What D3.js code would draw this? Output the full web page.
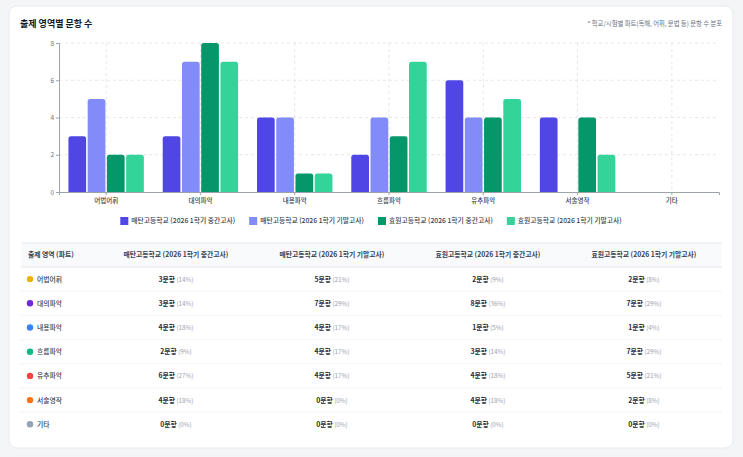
<!DOCTYPE html>
<html>
<head>
<meta charset="utf-8">
<script src="https://cdn.jsdelivr.net/npm/d3@7"></script>
<style>
  html, body { margin: 0; padding: 0; background: #f4f5f7; }
  svg { display: block; font-family: "Noto Sans CJK KR", "Noto Sans", sans-serif; }
</style>
</head>
<body>
<div class="canvas"></div>
<script>
// what to show
var categories = ['어법어휘', '대의파악', '내용파악', '흐름파악', '유추파악', '서술영작', '기타'];
var dotColors = ['#eab308', '#6d28d9', '#3b82f6', '#10b981', '#ef4444', '#f97316', '#94a3b8'];

var seriesNames = [
    '매탄고등학교 (2026 1학기 중간고사)',
    '매탄고등학교 (2026 1학기 기말고사)',
    '효원고등학교 (2026 1학기 중간고사)',
    '효원고등학교 (2026 1학기 기말고사)'
];
var seriesColors = ['#4f46e5', '#818cf8', '#059669', '#34d399'];

var maetanMid = [3, 3, 4, 2, 6, 4, 0];
var maetanFinal = [5, 7, 4, 4, 4, 0, 0];
var hyowonMid = [2, 8, 1, 3, 4, 4, 0];
var hyowonFinal = [2, 7, 1, 7, 5, 2, 0];
var seriesValues = [maetanMid, maetanFinal, hyowonMid, hyowonFinal];

var yTicks = [0, 2, 4, 6, 8];

// where does it live
var width = 743,
    height = 457;

var svg = d3.select('.canvas').append('svg')
    .attr('width', width)
    .attr('height', height);

// card
svg.append('rect')
    .attr('x', 9).attr('y', 6)
    .attr('width', 724).attr('height', 442)
    .attr('rx', 8)
    .attr('fill', '#fff')
    .attr('stroke', '#e8ebf0');

svg.append('text')
    .attr('x', 20).attr('y', 27)
    .attr('font-size', 9)
    .attr('font-weight', 700)
    .attr('fill', '#111827')
    .text('출제 영역별 문항 수');

svg.append('text')
    .attr('x', 722).attr('y', 26)
    .attr('text-anchor', 'end')
    .attr('font-size', 6.3)
    .attr('fill', '#6b7280')
    .text('* 학교/시험별 파트(독해, 어휘, 문법 등) 문항 수 분포');

// scales
var x = d3.scaleBand()
    .domain(categories)
    .range([59, 719]);

var inner = d3.scaleBand()
    .domain(d3.range(seriesNames.length))
    .range([x.bandwidth() * 0.1, x.bandwidth() * 0.9])
    .paddingInner(0.08);

var y = d3.scaleLinear()
    .domain([0, 8])
    .range([192, 43]);

// grid
var grid = svg.append('g')
    .attr('stroke', '#e5e7eb')
    .attr('stroke-dasharray', '3,3');

grid.selectAll('line.h')
    .data(yTicks.slice(1))
    .enter()
    .append('line')
    .attr('x1', 59).attr('x2', 719)
    .attr('y1', function (d) { return y(d); })
    .attr('y2', function (d) { return y(d); });

grid.selectAll('line.v')
    .data(categories)
    .enter()
    .append('line')
    .attr('x1', function (d) { return x(d) + x.bandwidth() / 2; })
    .attr('x2', function (d) { return x(d) + x.bandwidth() / 2; })
    .attr('y1', 43).attr('y2', 192);

// bars
var rows = [];
categories.forEach(function (c, i) {
    seriesValues.forEach(function (vals, s) {
        rows.push({ cat: c, s: s, v: vals[i] });
    });
});

function barPath(d) {
    var x0 = x(d.cat) + inner(d.s),
        w = inner.bandwidth(),
        y0 = y(d.v),
        y1 = y(0),
        r = Math.min(2.5, (y1 - y0) / 2);
    return 'M' + x0 + ',' + y1 +
        'V' + (y0 + r) +
        'Q' + x0 + ',' + y0 + ' ' + (x0 + r) + ',' + y0 +
        'H' + (x0 + w - r) +
        'Q' + (x0 + w) + ',' + y0 + ' ' + (x0 + w) + ',' + (y0 + r) +
        'V' + y1 + 'Z';
}

svg.append('g').selectAll('path')
    .data(rows.filter(function (d) { return d.v > 0; }))
    .enter()
    .append('path')
    .attr('d', barPath)
    .attr('fill', function (d) { return seriesColors[d.s]; });

// axes
var yAxis = svg.append('g')
    .attr('transform', 'translate(59,0)')
    .call(d3.axisLeft(y).tickValues(yTicks).tickSize(3).tickPadding(2));

var xAxis = svg.append('g')
    .attr('transform', 'translate(0,192)')
    .call(d3.axisBottom(x).tickSize(3).tickPadding(3));

[yAxis, xAxis].forEach(function (a) {
    a.select('.domain').attr('stroke', '#9ca3af');
    a.selectAll('.tick line').attr('stroke', '#9ca3af');
    a.selectAll('.tick text')
        .attr('font-family', '"Noto Sans CJK KR", sans-serif')
        .attr('font-size', 6.5);
});
yAxis.selectAll('.tick text').attr('fill', '#6b7280');
xAxis.selectAll('.tick text').attr('fill', '#374151').attr('font-weight', 500);

// legend
var legend = svg.append('g');
var items = legend.selectAll('g')
    .data(seriesNames)
    .enter()
    .append('g');

items.append('rect')
    .attr('width', 8).attr('height', 8)
    .attr('y', -4)
    .attr('fill', function (d, i) { return seriesColors[i]; });

items.append('text')
    .attr('x', 11).attr('y', 2.4)
    .attr('font-size', 6.8)
    .attr('font-weight', 500)
    .attr('fill', '#374151')
    .text(function (d) { return d; });

var offsets = [], total = 0;
items.each(function () {
    var w = this.getBBox().width;
    offsets.push(total);
    total += w + 14;
});
total -= 14;
items.attr('transform', function (d, i) {
    return 'translate(' + (offsets[i] + (371 - total / 2)) + ',221)';
});

// table
var tableLeft = 21, tableRight = 722,
    headTop = 243, headH = 24, rowH = 24.2,
    colCenters = [176, 332, 488, 644];

svg.append('rect')
    .attr('x', tableLeft).attr('y', headTop)
    .attr('width', tableRight - tableLeft).attr('height', headH)
    .attr('fill', '#f8fafc');

svg.append('g').selectAll('line')
    .data(d3.range(categories.length + 1))
    .enter()
    .append('line')
    .attr('x1', tableLeft).attr('x2', tableRight)
    .attr('y1', function (i) { return i === 0 ? headTop : headTop + headH + (i - 1) * rowH; })
    .attr('y2', function (i) { return i === 0 ? headTop : headTop + headH + (i - 1) * rowH; })
    .attr('stroke', function (i) { return i < 2 ? '#e5e7eb' : '#f1f3f6'; });

var head = svg.append('g')
    .attr('font-size', 6.8)
    .attr('font-weight', 700)
    .attr('fill', '#374151');

head.append('text')
    .attr('x', 28).attr('y', headTop + headH / 2 + 2.4)
    .text('출제 영역 (파트)');

head.selectAll('text.col')
    .data(seriesNames)
    .enter()
    .append('text')
    .attr('class', 'col')
    .attr('x', function (d, i) { return colCenters[i]; })
    .attr('y', headTop + headH / 2 + 2.4)
    .attr('text-anchor', 'middle')
    .text(function (d) { return d; });

var totals = seriesValues.map(function (vals) { return d3.sum(vals); });

var body = svg.append('g').selectAll('g')
    .data(categories)
    .enter()
    .append('g')
    .attr('transform', function (d, i) {
        return 'translate(0,' + (headTop + headH + i * rowH + rowH / 2) + ')';
    });

body.append('circle')
    .attr('cx', 30).attr('r', 3.2)
    .attr('fill', function (d, i) { return dotColors[i]; });

body.append('text')
    .attr('x', 37).attr('y', 2.4)
    .attr('font-size', 6.8)
    .attr('font-weight', 500)
    .attr('fill', '#374151')
    .text(function (d) { return d; });

body.each(function (c, i) {
    var g = d3.select(this);
    seriesValues.forEach(function (vals, s) {
        var t = g.append('text')
            .attr('x', colCenters[s]).attr('y', 2.4)
            .attr('text-anchor', 'middle')
            .attr('font-size', 6.8);
        t.append('tspan')
            .attr('font-weight', 700)
            .attr('fill', '#1f2937')
            .text(vals[i] + '문항');
        t.append('tspan')
            .attr('fill', '#9ca3af')
            .attr('font-size', 6.3)
            .text(' (' + Math.round(vals[i] / totals[s] * 100) + '%)');
    });
});
</script>
</body>
</html>
